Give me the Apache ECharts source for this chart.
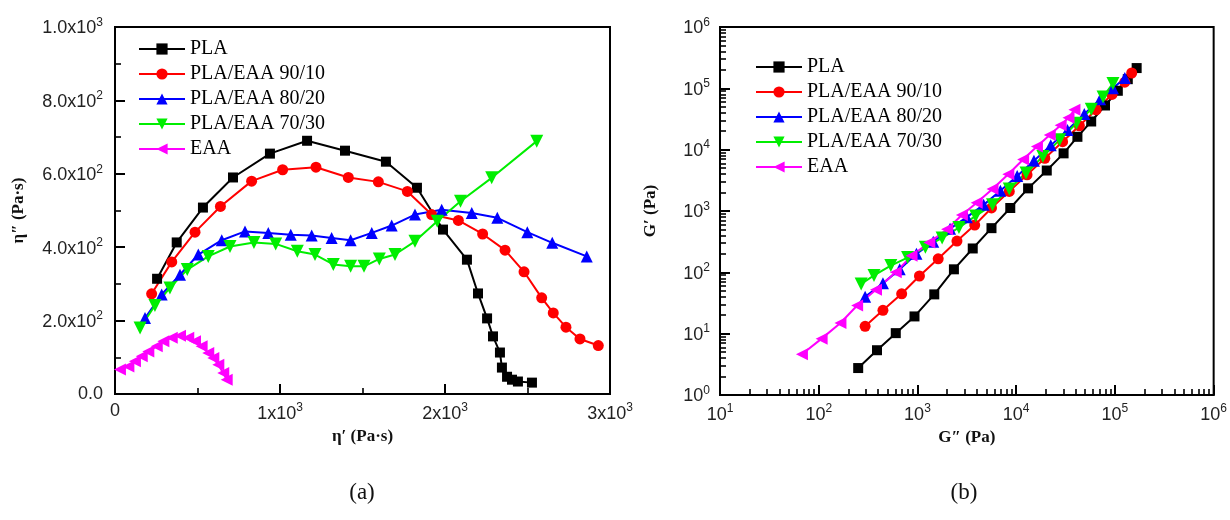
<!DOCTYPE html>
<html>
<head>
<meta charset="utf-8">
<script src="https://cdn.jsdelivr.net/npm/echarts@6.0.0/dist/echarts.min.js"></script>
<style>
  html, body { margin: 0; padding: 0; background: #fff; }
  #chart { width: 1230px; height: 520px; }
</style>
</head>
<body>
<div id="chart"></div>
<script>
// series names
const names = ["PLA", "PLA/EAA 90/10", "PLA/EAA 80/20", "PLA/EAA 70/30", "EAA"];
const colors = ["#000000", "#ff0000", "#0000ff", "#00ee00", "#ff00ff"];

// (a) eta' vs eta'' (Pa·s)
const plaEta1 = [255, 374, 533, 715, 939, 1164, 1394, 1642, 1830, 1988, 2133, 2200, 2255, 2291, 2333, 2345, 2376, 2406, 2442, 2527];
const plaEta2 = [314, 413, 508, 590, 655, 690, 663, 633, 562, 448, 366, 274, 206, 157, 113, 72, 47, 39, 34, 31];
const b90Eta1 = [222, 344, 485, 639, 828, 1016, 1218, 1414, 1596, 1772, 1919, 2081, 2228, 2364, 2479, 2586, 2656, 2733, 2818, 2929];
const b90Eta2 = [273, 360, 441, 511, 580, 611, 618, 590, 578, 552, 489, 473, 436, 392, 333, 262, 221, 182, 150, 132];
const b80Eta1 = [182, 283, 394, 505, 647, 788, 929, 1065, 1192, 1313, 1428, 1556, 1677, 1818, 1980, 2162, 2317, 2499, 2650, 2859];
const b80Eta2 = [207, 271, 325, 380, 419, 443, 439, 434, 432, 425, 419, 439, 459, 489, 502, 493, 480, 441, 412, 375];
const b70Eta1 = [152, 242, 333, 438, 565, 697, 842, 974, 1105, 1212, 1323, 1428, 1509, 1602, 1697, 1818, 1953, 2094, 2283, 2556];
const b70Eta2 = [180, 241, 289, 339, 375, 402, 413, 409, 389, 380, 353, 348, 348, 368, 380, 416, 471, 525, 589, 689];
const eaaEta1 = [30, 81, 121, 162, 202, 253, 293, 344, 394, 444, 485, 525, 565, 596, 626, 656, 677];
const eaaEta2 = [67, 75, 89, 103, 116, 130, 144, 153, 159, 153, 144, 130, 112, 98, 80, 57, 39];

// (b) G'' vs G' (Pa)
const plaG2 = [251, 389, 603, 933, 1480, 2340, 3630, 5620, 8710, 13200, 20400, 30200, 41700, 57500, 79400, 107000, 135000, 166000];
const plaG1 = [2.75, 5.37, 10.2, 19.1, 43.7, 112, 245, 525, 1120, 2340, 4570, 8710, 16200, 28800, 52500, 91200, 141000, 214000];
const b90G2 = [295, 447, 692, 1047, 1622, 2512, 3802, 5623, 8511, 12882, 19498, 29512, 43652, 64565, 93325, 125893, 147911];
const b90G1 = [13.2, 24.0, 44.7, 87.1, 166, 324, 589, 1122, 2089, 3890, 7244, 13490, 24547, 44668, 79433, 125893, 177828];
const b80G2 = [295, 447, 661, 977, 1445, 2138, 3162, 4677, 6918, 10233, 15136, 22387, 33113, 48978, 70795, 95499, 125893];
const b80G1 = [39.8, 66.1, 112, 200, 316, 513, 794, 1259, 2138, 3715, 6607, 11749, 20893, 38019, 66069, 100000, 147911];
const b70G2 = [269, 363, 537, 794, 1202, 1778, 2630, 3890, 5754, 8511, 12589, 18621, 27542, 40738, 57544, 75858, 95499];
const b70G1 = [64.6, 89.1, 129, 174, 257, 363, 537, 832, 1259, 2291, 4169, 7762, 14454, 26915, 45709, 72444, 120226];
const eaaG2 = [67.6, 107, 166, 245, 380, 603, 871, 1318, 1995, 2818, 3981, 5754, 8318, 11749, 16218, 21878, 28184, 33884, 38905];
const eaaG1 = [4.62, 8.30, 14.9, 28.8, 51.8, 100, 186, 306, 505, 861, 1365, 2291, 3981, 6918, 11220, 17378, 25119, 33113, 44668];

const zip = (a, b) => a.map((v, i) => [v, b[i]]);

const symbols = [
  { symbol: "rect", symbolSize: 10, symbolRotate: 0 },
  { symbol: "circle", symbolSize: 11, symbolRotate: 0 },
  { symbol: "triangle", symbolSize: 12, symbolRotate: 0 },
  { symbol: "triangle", symbolSize: 13, symbolRotate: 180 },
  { symbol: "triangle", symbolSize: 12, symbolRotate: 90 },
];

const dataA = [zip(plaEta1, plaEta2), zip(b90Eta1, b90Eta2), zip(b80Eta1, b80Eta2), zip(b70Eta1, b70Eta2), zip(eaaEta1, eaaEta2)];
const dataB = [zip(plaG2, plaG1), zip(b90G2, b90G1), zip(b80G2, b80G1), zip(b70G2, b70G1), zip(eaaG2, eaaG1)];

const sansFont = "Liberation Sans";
const serifFont = "Liberation Serif";

function richLabel() {
  return {
    b: { fontFamily: sansFont, fontSize: 18, color: "#222", verticalAlign: "bottom" },
    s: { fontFamily: sansFont, fontSize: 12, color: "#222", verticalAlign: "bottom", padding: [0, 0, 9, 0] },
  };
}

function makeSeries(data, grid) {
  return data.map((d, i) => ({
    name: names[i],
    type: "line",
    xAxisIndex: grid,
    yAxisIndex: grid,
    data: d,
    symbol: symbols[i].symbol,
    symbolSize: symbols[i].symbolSize,
    symbolRotate: symbols[i].symbolRotate,
    showAllSymbol: true,
    lineStyle: { color: colors[i], width: 2 },
    itemStyle: { color: colors[i] },
    animation: false,
  }));
}

// fresh objects for every axis
function axisBase(extra, minorSplit) {
  return Object.assign({
    axisLine: { show: true, onZero: false, lineStyle: { color: "#000", width: 2 } },
    axisTick: { show: true, inside: true, length: 10, lineStyle: { color: "#000", width: 2 } },
    minorTick: { show: true, splitNumber: minorSplit, length: 6, lineStyle: { color: "#000", width: 1.6 } },
    splitLine: { show: false },
    minorSplitLine: { show: false },
    nameLocation: "middle",
    nameTextStyle: { fontFamily: serifFont, fontWeight: "bold", fontSize: 17, color: "#111" },
  }, extra);
}

const logFormatter = (v) => "{b|10}{s|" + Math.round(Math.log10(v)) + "}";

function legendAt(left, top) {
  return {
    left: left,
    top: top,
    orient: "vertical",
    data: names,
    itemWidth: 46,
    itemHeight: 14,
    itemGap: 5,
    textStyle: { fontFamily: serifFont, fontSize: 20, color: "#000" },
    selectedMode: false,
  };
}

const chart = echarts.init(document.getElementById("chart"));

const option = {
  backgroundColor: "#fff",
  animation: false,
  title: [
    { text: "(a)", left: 357, top: 476, textAlign: "center",
      textStyle: { fontFamily: serifFont, fontWeight: "normal", fontSize: 23, color: "#111" } },
    { text: "(b)", left: 959, top: 476, textAlign: "center",
      textStyle: { fontFamily: serifFont, fontWeight: "normal", fontSize: 23, color: "#111" } },
  ],
  grid: [
    { left: 115, right: 620, top: 27, bottom: 126, show: true, borderColor: "#000", borderWidth: 2 },
    { left: 720, right: 16, top: 27, bottom: 125, show: true, borderColor: "#000", borderWidth: 2 },
  ],
  legend: [legendAt(133, 34), legendAt(750, 52)],
  xAxis: [
    axisBase({
      type: "value", gridIndex: 0, min: 0, max: 3000, interval: 1000,
      name: "η′ (Pa·s)", nameGap: 27,
      axisLabel: {
        margin: 8,
        formatter: (v) => (v === 0 ? "{b|0}" : "{b|" + v / 1000 + "x10}{s|3}"),
        rich: richLabel(),
      },
    }, 2),
    axisBase({
      type: "log", logBase: 10, gridIndex: 1, min: 10, max: 1e6,
      name: "G″ (Pa)", nameGap: 27,
      axisLabel: { margin: 8, formatter: logFormatter, rich: richLabel() },
    }, 9),
  ],
  yAxis: [
    axisBase({
      type: "value", gridIndex: 0, min: 0, max: 1000, interval: 200,
      name: "η″ (Pa·s)", nameGap: 88,
      axisLabel: {
        margin: 12,
        formatter: (v) => {
          if (v === 0) return "{b|0.0}";
          const e = Math.floor(Math.log10(v));
          const m = (v / Math.pow(10, e)).toFixed(1);
          return "{b|" + m + "x10}{s|" + e + "}";
        },
        rich: richLabel(),
      },
    }, 2),
    axisBase({
      type: "log", logBase: 10, gridIndex: 1, min: 1, max: 1e6,
      name: "G′ (Pa)", nameGap: 61,
      axisLabel: { margin: 10, formatter: logFormatter, rich: richLabel() },
    }, 9),
  ],
  series: makeSeries(dataA, 0).concat(makeSeries(dataB, 1)),
};

chart.setOption(option);
</script>
</body>
</html>
